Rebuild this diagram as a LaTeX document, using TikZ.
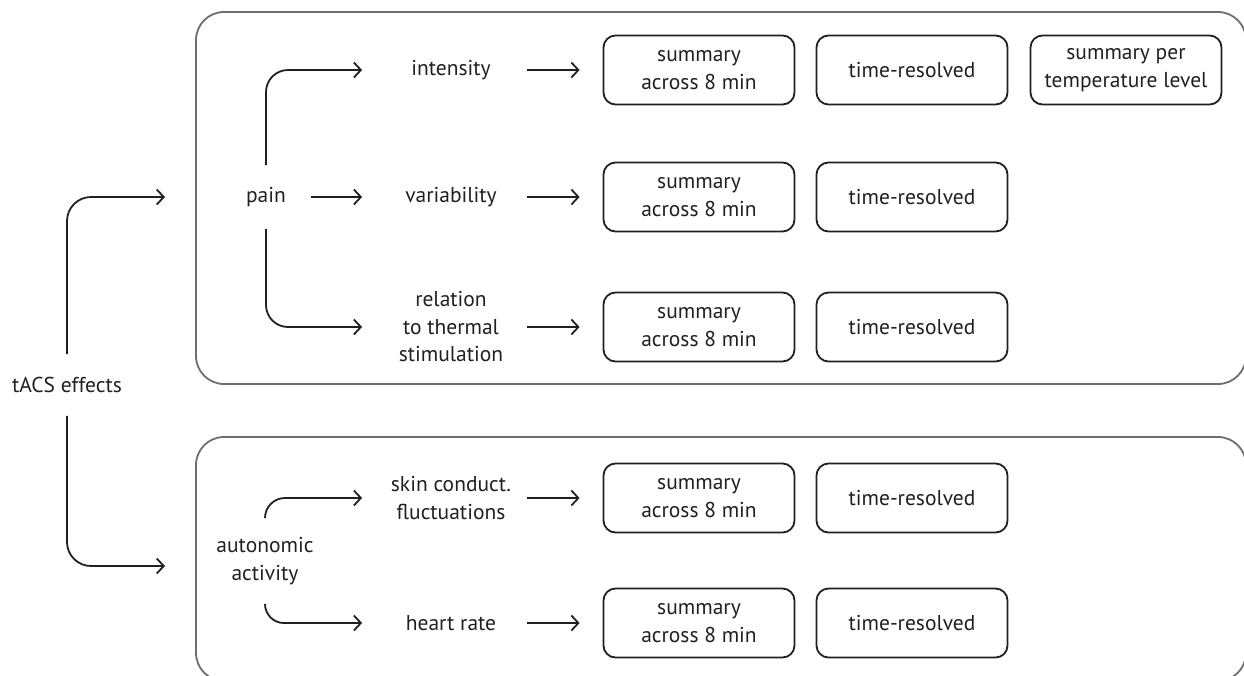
\documentclass[tikz,border=0pt]{standalone}
\usepackage{fontspec}
\setmainfont{PT Sans}
\usetikzlibrary{arrows.meta}
\definecolor{ink}{RGB}{35,31,32}
\definecolor{frame}{RGB}{109,110,113}

\begin{document}
\begin{tikzpicture}
[x=1pt,y=-1pt, font=\fontsize{21.5}{27.5}\selectfont, line width=1.8pt, draw=ink, text=ink]
\tikzstyle{every node}=[align=center, inner sep=0pt]
\tikzstyle{group}=[draw=frame, rounded corners=28pt, line width=1.8pt, minimum width=1050pt]
\tikzstyle{result}=[draw=ink, rounded corners=12pt, minimum width=191pt, minimum height=69pt]
\tikzstyle{measure}=[minimum width=150pt]
\tikzstyle{link}=[draw=ink, -{Straight Barb[length=7pt,width=15pt]}]
\tikzstyle{branch}=[link, shorten >=13pt]
\tikzstyle{feed}=[link, shorten >=23pt]
\useasboundingbox (0,0) rectangle (1244,675);
\clip (0,0) rectangle (1244,675);

% outer groups
\node[group, minimum height=372pt] (painbox) at (721,198) {};
\node[group, minimum height=244pt] (autobox) at (721,559) {};

% sources
\node[minimum height=60pt] (tacs) at (67,385) {tACS effects};
\node[minimum width=88pt, minimum height=62pt] (pain) at (266,197) {pain};
\node[minimum height=84pt] (auto) at (265,561) {autonomic\\activity};
\coordinate (painin) at (165,197);
\coordinate (autoin) at (165,566);

% measures
\node[measure] (int) at (451,70) {intensity};
\node[measure] (var) at (451,197) {variability};
\node[measure] (rel) at (451,327) {relation\\to thermal\\stimulation};
\node[measure] (scf) at (451,498) {skin conduct.\\fluctuations};
\node[measure] (hr) at (451,623) {heart rate};

% results
\node[result] (int-sum) at (699,70) {summary\\across 8 min};
\node[result] (int-time) at (912,70) {time-resolved};
\node[result] (int-temp) at (1126,70) {summary per\\temperature level};
\node[result] (var-sum) at (699,197) {summary\\across 8 min};
\node[result] (var-time) at (912,197) {time-resolved};
\node[result] (rel-sum) at (699,327) {summary\\across 8 min};
\node[result] (rel-time) at (912,327) {time-resolved};
\node[result] (scf-sum) at (699,498) {summary\\across 8 min};
\node[result] (scf-time) at (912,498) {time-resolved};
\node[result] (hr-sum) at (699,623) {summary\\across 8 min};
\node[result] (hr-time) at (912,623) {time-resolved};

% connectors
\draw[link, rounded corners=24pt] (tacs.north) |- (painin);
\draw[link, rounded corners=24pt] (tacs.south) |- (autoin);
\draw[branch, rounded corners=22pt] (pain.north) |- (int.west);
\draw[branch] (pain.east) -- (var.west);
\draw[branch, rounded corners=22pt] (pain.south) |- (rel.west);
\draw[branch, rounded corners=20pt] (auto.north) |- (scf.west);
\draw[branch, rounded corners=19pt] (auto.south) |- (hr.west);
\draw[feed] (int.east) -- (int-sum.west);
\draw[feed] (var.east) -- (var-sum.west);
\draw[feed] (rel.east) -- (rel-sum.west);
\draw[feed] (scf.east) -- (scf-sum.west);
\draw[feed] (hr.east) -- (hr-sum.west);
\end{tikzpicture}
\end{document}
